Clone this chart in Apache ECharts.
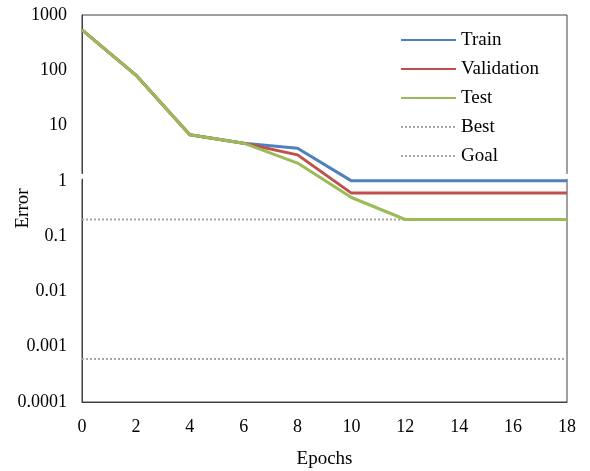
<!DOCTYPE html>
<html>
<head>
<meta charset="utf-8">
<script src="https://cdn.jsdelivr.net/npm/echarts@6/dist/echarts.min.js"></script>
<style>
  html, body { margin: 0; padding: 0; background: #fff; }
  #chart { width: 590px; height: 471px; }
</style>
</head>
<body>
<div id="chart"></div>
<script>
// Training performance: error per epoch (log scale)
const epochs = [0, 2, 4, 6, 8, 10, 12, 14, 16, 18];
const trainError = [540, 82, 6.8, 4.8, 3.9, 1.0, 1.0, 1.0, 1.0, 1.0];
const validationError = [540, 82, 6.8, 4.8, 2.95, 0.6, 0.6, 0.6, 0.6, 0.6];
const testError = [540, 82, 6.8, 4.8, 2.1, 0.5, 0.2, 0.2, 0.2, 0.2];
const bestValue = 0.2;
const goalValue = 0.0006;
const yTickLabels = ['0.0001', '0.001', '0.01', '0.1', '1', '10', '100', '1000'];
const xTickLabels = ['0', '2', '4', '6', '8', '10', '12', '14', '16', '18'];

const FONT = 'Liberation Serif';
const pairs = (xs, ys) => xs.map((x, i) => [x, ys[i]]);
const flat = v => [[epochs[0], v], [epochs[epochs.length - 1], v]];

const chart = echarts.init(document.getElementById('chart'));

function lineSeries(name, data, color, width, type) {
  return {
    name: name,
    type: 'line',
    data: data,
    symbol: 'none',
    showSymbol: false,
    animation: false,
    lineStyle: { color: color, width: width, type: type || 'solid' },
    itemStyle: { color: color }
  };
}

chart.setOption({
  animation: false,
  backgroundColor: '#ffffff',
  grid: {
    left: 82, right: 23, top: 15, bottom: 69,
    containLabel: false,
    outerBoundsMode: 'none',
    show: true, borderColor: '#404040', borderWidth: 1
  },
  legend: {
    orient: 'vertical',
    left: 395,
    top: 25,
    itemWidth: 55,
    itemHeight: 20,
    itemGap: 9,
    itemStyle: { opacity: 0, borderWidth: 0 },
    textStyle: { fontFamily: FONT, fontSize: 19, color: '#000', lineHeight: 20 },
    data: ['Train', 'Validation', 'Test', 'Best', 'Goal']
  },
  xAxis: {
    type: 'value',
    min: 0, max: 18, interval: 2,
    name: 'Epochs',
    nameLocation: 'middle',
    nameGap: 48,
    nameTextStyle: { fontFamily: FONT, fontSize: 19, color: '#000' },
    axisLine: { show: true, lineStyle: { color: '#404040', width: 1 } },
    axisTick: { show: false },
    splitLine: { show: false },
    axisLabel: {
      fontFamily: FONT, fontSize: 18, color: '#000', margin: 16,
      formatter: v => xTickLabels[epochs.indexOf(v)] ?? String(v)
    }
  },
  yAxis: {
    type: 'log',
    logBase: 10,
    min: 0.0001, max: 1000,
    name: 'Error',
    nameLocation: 'middle',
    nameGap: 49,
    nameMoveOverlap: false,
    nameTextStyle: { fontFamily: FONT, fontSize: 19, color: '#000' },
    axisLine: { show: true, lineStyle: { color: '#404040', width: 1 } },
    axisTick: { show: false },
    splitLine: { show: false },
    axisLabel: {
      fontFamily: FONT, fontSize: 18, color: '#000', margin: 15,
      formatter: v => {
        const k = Math.round(Math.log10(v)) + 4;
        return yTickLabels[k] ?? String(v);
      }
    }
  },
  series: [
    lineSeries('Best', flat(bestValue), '#a6a6a6', 2, 'dotted'),
    lineSeries('Goal', flat(goalValue), '#a6a6a6', 2, 'dotted'),
    lineSeries('Train', pairs(epochs, trainError), '#4f81bd', 3),
    lineSeries('Validation', pairs(epochs, validationError), '#c0504d', 3),
    lineSeries('Test', pairs(epochs, testError), '#9bbb59', 3)
  ]
});

// Small break in the frame just above the "1" level on both sides
const leftEdge = chart.convertToPixel({ gridIndex: 0 }, [epochs[0], 1]);
const rightEdge = chart.convertToPixel({ gridIndex: 0 }, [epochs[epochs.length - 1], 1]);
chart.setOption({
  graphic: [leftEdge, rightEdge].map(p => ({
    type: 'rect',
    silent: true,
    z: 100,
    shape: { x: p[0] - 2, y: p[1] - 7, width: 4, height: 5 },
    style: { fill: '#ffffff' }
  }))
});
</script>
</body>
</html>
